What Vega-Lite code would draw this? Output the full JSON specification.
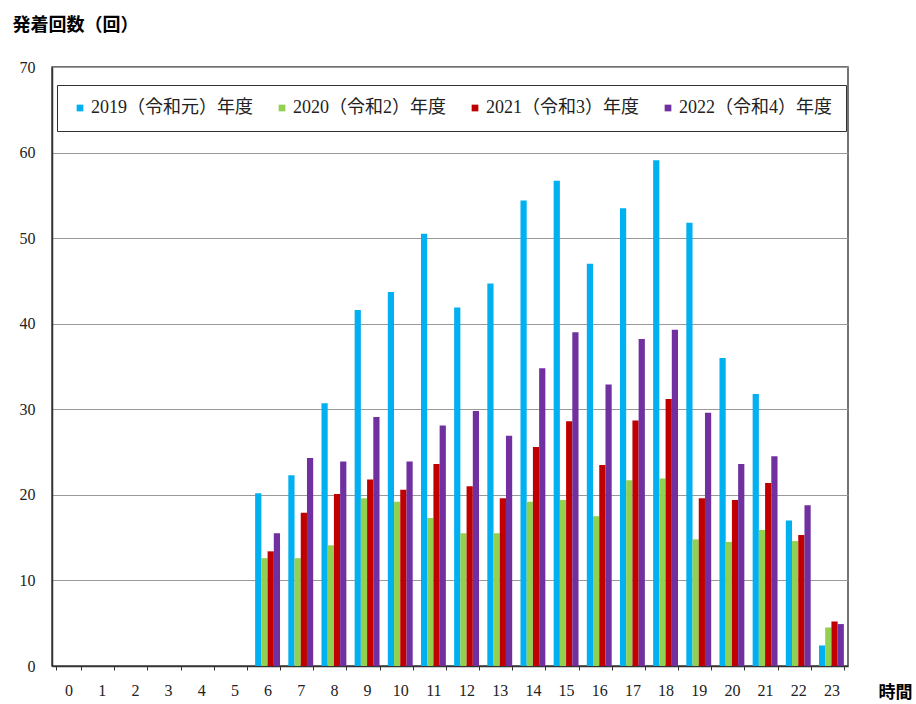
{
  "$schema": "https://vega.github.io/schema/vega-lite/v6.json",
  "width": 796,
  "height": 599,
  "autosize": {"type": "none"},
  "padding": {"left": 52, "top": 67, "right": 68, "bottom": 38},
  "background": "white",
  "config": {
    "view": {"stroke": "#444", "strokeWidth": 1.5},
    "font": "Noto Sans CJK JP"
  },
  "datasets": {
    "d": [
      {"hour": 0, "year": "2019（令和元）年度", "value": 0},
      {"hour": 0, "year": "2020（令和2）年度", "value": 0},
      {"hour": 0, "year": "2021（令和3）年度", "value": 0},
      {"hour": 0, "year": "2022（令和4）年度", "value": 0},
      {"hour": 1, "year": "2019（令和元）年度", "value": 0},
      {"hour": 1, "year": "2020（令和2）年度", "value": 0},
      {"hour": 1, "year": "2021（令和3）年度", "value": 0},
      {"hour": 1, "year": "2022（令和4）年度", "value": 0},
      {"hour": 2, "year": "2019（令和元）年度", "value": 0},
      {"hour": 2, "year": "2020（令和2）年度", "value": 0},
      {"hour": 2, "year": "2021（令和3）年度", "value": 0},
      {"hour": 2, "year": "2022（令和4）年度", "value": 0},
      {"hour": 3, "year": "2019（令和元）年度", "value": 0},
      {"hour": 3, "year": "2020（令和2）年度", "value": 0},
      {"hour": 3, "year": "2021（令和3）年度", "value": 0},
      {"hour": 3, "year": "2022（令和4）年度", "value": 0},
      {"hour": 4, "year": "2019（令和元）年度", "value": 0},
      {"hour": 4, "year": "2020（令和2）年度", "value": 0},
      {"hour": 4, "year": "2021（令和3）年度", "value": 0},
      {"hour": 4, "year": "2022（令和4）年度", "value": 0},
      {"hour": 5, "year": "2019（令和元）年度", "value": 0},
      {"hour": 5, "year": "2020（令和2）年度", "value": 0},
      {"hour": 5, "year": "2021（令和3）年度", "value": 0},
      {"hour": 5, "year": "2022（令和4）年度", "value": 0},
      {"hour": 6, "year": "2019（令和元）年度", "value": 20.2},
      {"hour": 6, "year": "2020（令和2）年度", "value": 12.6},
      {"hour": 6, "year": "2021（令和3）年度", "value": 13.4},
      {"hour": 6, "year": "2022（令和4）年度", "value": 15.5},
      {"hour": 7, "year": "2019（令和元）年度", "value": 22.3},
      {"hour": 7, "year": "2020（令和2）年度", "value": 12.6},
      {"hour": 7, "year": "2021（令和3）年度", "value": 17.9},
      {"hour": 7, "year": "2022（令和4）年度", "value": 24.3},
      {"hour": 8, "year": "2019（令和元）年度", "value": 30.7},
      {"hour": 8, "year": "2020（令和2）年度", "value": 14.1},
      {"hour": 8, "year": "2021（令和3）年度", "value": 20.1},
      {"hour": 8, "year": "2022（令和4）年度", "value": 23.9},
      {"hour": 9, "year": "2019（令和元）年度", "value": 41.6},
      {"hour": 9, "year": "2020（令和2）年度", "value": 19.6},
      {"hour": 9, "year": "2021（令和3）年度", "value": 21.8},
      {"hour": 9, "year": "2022（令和4）年度", "value": 29.1},
      {"hour": 10, "year": "2019（令和元）年度", "value": 43.7},
      {"hour": 10, "year": "2020（令和2）年度", "value": 19.2},
      {"hour": 10, "year": "2021（令和3）年度", "value": 20.6},
      {"hour": 10, "year": "2022（令和4）年度", "value": 23.9},
      {"hour": 11, "year": "2019（令和元）年度", "value": 50.5},
      {"hour": 11, "year": "2020（令和2）年度", "value": 17.3},
      {"hour": 11, "year": "2021（令和3）年度", "value": 23.6},
      {"hour": 11, "year": "2022（令和4）年度", "value": 28.1},
      {"hour": 12, "year": "2019（令和元）年度", "value": 41.9},
      {"hour": 12, "year": "2020（令和2）年度", "value": 15.5},
      {"hour": 12, "year": "2021（令和3）年度", "value": 21.0},
      {"hour": 12, "year": "2022（令和4）年度", "value": 29.8},
      {"hour": 13, "year": "2019（令和元）年度", "value": 44.7},
      {"hour": 13, "year": "2020（令和2）年度", "value": 15.5},
      {"hour": 13, "year": "2021（令和3）年度", "value": 19.6},
      {"hour": 13, "year": "2022（令和4）年度", "value": 26.9},
      {"hour": 14, "year": "2019（令和元）年度", "value": 54.4},
      {"hour": 14, "year": "2020（令和2）年度", "value": 19.2},
      {"hour": 14, "year": "2021（令和3）年度", "value": 25.6},
      {"hour": 14, "year": "2022（令和4）年度", "value": 34.8},
      {"hour": 15, "year": "2019（令和元）年度", "value": 56.7},
      {"hour": 15, "year": "2020（令和2）年度", "value": 19.4},
      {"hour": 15, "year": "2021（令和3）年度", "value": 28.6},
      {"hour": 15, "year": "2022（令和4）年度", "value": 39.0},
      {"hour": 16, "year": "2019（令和元）年度", "value": 47.0},
      {"hour": 16, "year": "2020（令和2）年度", "value": 17.5},
      {"hour": 16, "year": "2021（令和3）年度", "value": 23.5},
      {"hour": 16, "year": "2022（令和4）年度", "value": 32.9},
      {"hour": 17, "year": "2019（令和元）年度", "value": 53.5},
      {"hour": 17, "year": "2020（令和2）年度", "value": 21.7},
      {"hour": 17, "year": "2021（令和3）年度", "value": 28.7},
      {"hour": 17, "year": "2022（令和4）年度", "value": 38.2},
      {"hour": 18, "year": "2019（令和元）年度", "value": 59.1},
      {"hour": 18, "year": "2020（令和2）年度", "value": 21.9},
      {"hour": 18, "year": "2021（令和3）年度", "value": 31.2},
      {"hour": 18, "year": "2022（令和4）年度", "value": 39.3},
      {"hour": 19, "year": "2019（令和元）年度", "value": 51.8},
      {"hour": 19, "year": "2020（令和2）年度", "value": 14.8},
      {"hour": 19, "year": "2021（令和3）年度", "value": 19.6},
      {"hour": 19, "year": "2022（令和4）年度", "value": 29.6},
      {"hour": 20, "year": "2019（令和元）年度", "value": 36.0},
      {"hour": 20, "year": "2020（令和2）年度", "value": 14.5},
      {"hour": 20, "year": "2021（令和3）年度", "value": 19.4},
      {"hour": 20, "year": "2022（令和4）年度", "value": 23.6},
      {"hour": 21, "year": "2019（令和元）年度", "value": 31.8},
      {"hour": 21, "year": "2020（令和2）年度", "value": 15.9},
      {"hour": 21, "year": "2021（令和3）年度", "value": 21.4},
      {"hour": 21, "year": "2022（令和4）年度", "value": 24.5},
      {"hour": 22, "year": "2019（令和元）年度", "value": 17.0},
      {"hour": 22, "year": "2020（令和2）年度", "value": 14.6},
      {"hour": 22, "year": "2021（令和3）年度", "value": 15.3},
      {"hour": 22, "year": "2022（令和4）年度", "value": 18.8},
      {"hour": 23, "year": "2019（令和元）年度", "value": 2.4},
      {"hour": 23, "year": "2020（令和2）年度", "value": 4.5},
      {"hour": 23, "year": "2021（令和3）年度", "value": 5.2},
      {"hour": 23, "year": "2022（令和4）年度", "value": 4.9}
    ]
  },
  "data": {"name": "d"},
  "mark": {"type": "bar"},
  "encoding": {
    "x": {
      "field": "hour",
      "type": "ordinal",
      "scale": {"paddingInner": 0.25, "paddingOuter": 0.125},
      "axis": {
        "title": "時間",
        "titleFont": "Noto Sans CJK JP",
        "titleFontSize": 17,
        "titleFontWeight": "bold",
        "titleAngle": 0,
        "titleX": 826,
        "titleY": 26,
        "titleAlign": "left",
        "titleBaseline": "middle",
        "labelAngle": 0,
        "labelFont": "Liberation Serif",
        "labelFontSize": 16,
        "labelColor": "#222",
        "labelPadding": 12,
        "tickBand": "extent",
        "tickSize": 4,
        "tickColor": "#333",
        "domainColor": "#333",
        "domainWidth": 1.5
      }
    },
    "xOffset": {
      "field": "year",
      "type": "nominal",
      "sort": ["2019（令和元）年度", "2020（令和2）年度", "2021（令和3）年度", "2022（令和4）年度"]
    },
    "y": {
      "field": "value",
      "type": "quantitative",
      "scale": {"domain": [0, 70]},
      "axis": {
        "values": [0, 10, 20, 30, 40, 50, 60, 70],
        "title": "発着回数（回）",
        "titleFont": "Noto Sans CJK JP",
        "titleFontSize": 18,
        "titleFontWeight": "bold",
        "titleAngle": 0,
        "titleX": -40,
        "titleY": -42,
        "titleAlign": "left",
        "titleBaseline": "middle",
        "labelFont": "Liberation Serif",
        "labelFontSize": 16,
        "labelColor": "#222",
        "labelPadding": 17,
        "ticks": false,
        "gridColor": "#999",
        "gridWidth": 1.2,
        "domainColor": "#333",
        "domainWidth": 1.5
      }
    },
    "color": {
      "field": "year",
      "type": "nominal",
      "sort": ["2019（令和元）年度", "2020（令和2）年度", "2021（令和3）年度", "2022（令和4）年度"],
      "scale": {
        "domain": ["2019（令和元）年度", "2020（令和2）年度", "2021（令和3）年度", "2022（令和4）年度"],
        "range": ["#00B0F0", "#92D050", "#C00000", "#7030A0"]
      },
      "legend": {
        "title": null,
        "orient": "none",
        "legendX": 5,
        "legendY": 18,
        "direction": "horizontal",
        "columns": 4,
        "symbolType": "square",
        "symbolSize": 45,
        "symbolStrokeWidth": 0,
        "labelFont": "Liberation Serif, Noto Sans CJK JP",
        "labelFontSize": 18,
        "labelColor": "#222",
        "labelOffset": 2,
        "labelLimit": 300,
        "columnPadding": 20,
        "padding": 14,
        "fillColor": "white",
        "strokeColor": "#333"
      }
    }
  }
}
